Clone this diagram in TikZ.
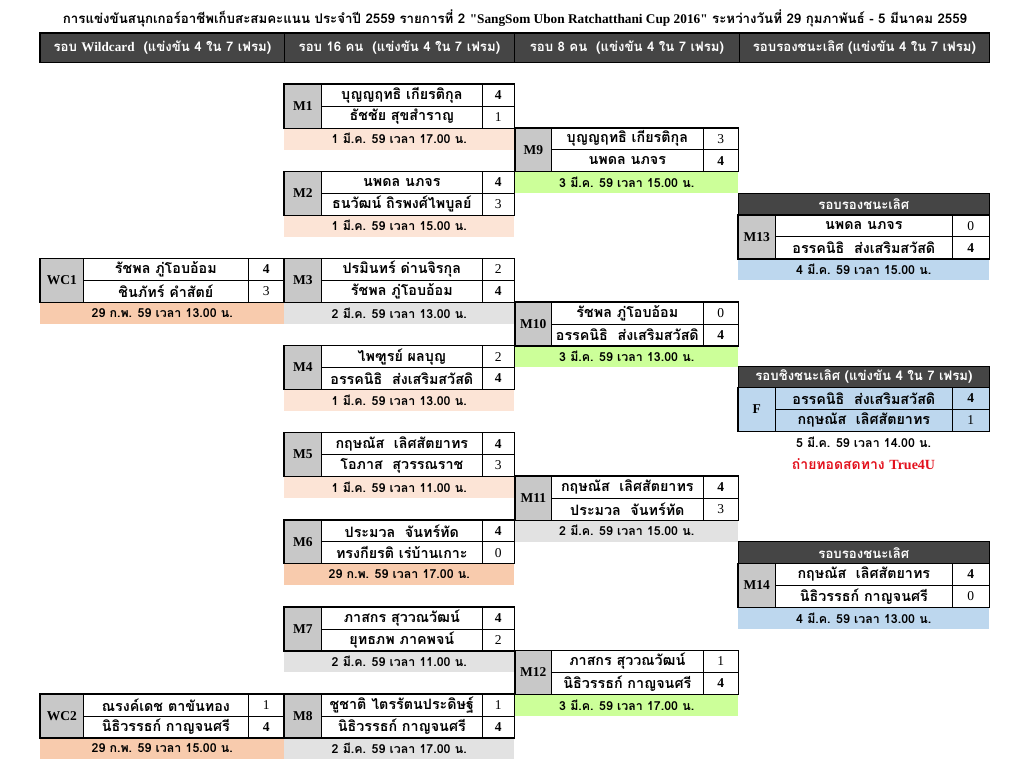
\documentclass[tikz,border=0pt]{standalone}
\usepackage{fontspec}
\setmainfont[Script=Thai]{Loma}
\newfontfamily\lat{Liberation Serif}
\definecolor{hdr}{HTML}{454545}
\definecolor{labgray}{HTML}{C8C8C8}
\definecolor{dPeach}{HTML}{FCE4D6}
\definecolor{dOrange}{HTML}{F8CBAD}
\definecolor{dGray}{HTML}{E2E2E2}
\definecolor{dGreen}{HTML}{CCFF99}
\definecolor{dBlue}{HTML}{BDD7EE}
\definecolor{tvred}{HTML}{E3101C}
\newcommand\namesize{\fontsize{14.3}{14.3}\selectfont}
\newcommand\datesize{\fontsize{12.4}{12.4}\selectfont}
\newcommand\hdrsize{\fontsize{13.2}{13.2}\selectfont}
\newcommand\scw[1]{\bfseries #1}
\newcommand\scl[1]{\mdseries #1}
\tikzset{
  cell/.style={draw=black, line width=0.7pt, anchor=north west, inner sep=0pt,
    minimum height=21.78pt, font=\bfseries\namesize},
  scell/.style={cell, font=\lat\fontsize{13.5}{13.5}\selectfont},
  labcell/.style={cell, fill=labgray, font=\lat\bfseries\fontsize{13.5}{13.5}\selectfont},
  datecell/.style={anchor=north west, inner sep=0pt, minimum height=21.78pt,
    font=\bfseries\datesize},
  outer/.style={draw=black, line width=1.2pt},
  hdrcell/.style={draw=black, line width=0.8pt, fill=hdr, text=white, anchor=north west,
    inner sep=0pt, font=\bfseries\hdrsize},
}
\newcommand\colset[4]{\def\xA{#1}\def\xB{#2}\def\xC{#3}\def\xD{#4}}
% id, row, label, p1, s1, p2, s2, date, datefill
\newcommand\matchblk[9]{%
  \pgfmathsetmacro\yT{84+#2*21.78}%
  \pgfmathsetmacro\yM{\yT+21.78}%
  \pgfmathsetmacro\yB{\yT+43.56}%
  \pgfmathsetmacro\wL{\xB-\xA}%
  \pgfmathsetmacro\wN{\xC-\xB}%
  \pgfmathsetmacro\wS{\xD-\xC}%
  \pgfmathsetmacro\wAll{\xD-\xA}%
  \node[datecell, fill=#9, minimum width=\wAll] (#1-date) at (\xA,\yB) {#8};
  \node[labcell, minimum width=\wL, minimum height=43.56] (#1-lab) at (\xA,\yT) {#3};
  \node[cell, minimum width=\wN] (#1-p1) at (\xB,\yT) {#4};
  \node[cell, minimum width=\wN] (#1-p2) at (\xB,\yM) {#6};
  \node[scell, minimum width=\wS] (#1-s1) at (\xC,\yT) {#5};
  \node[scell, minimum width=\wS] (#1-s2) at (\xC,\yM) {#7};
  \draw[outer] (#1-lab.north west) rectangle (#1-s2.south east);
}
\begin{document}
\begin{tikzpicture}[x=1pt,y=-1pt]
\useasboundingbox (0,0) rectangle (1024,768);
\fill[white] (0,0) rectangle (1024,768);
% title
\node[font=\bfseries\fontsize{13.3}{13.3}\selectfont] (title) at (515,18)
  {การแข่งขันสนุกเกอร์อาชีพเก็บสะสมคะแนน ประจำปี 2559 รายการที่ 2 {\lat"SangSom Ubon Ratchatthani Cup 2016"} ระหว่างวันที่ 29 กุมภาพันธ์ - 5 มีนาคม 2559};
% column headers
\node[hdrcell, minimum width=244, minimum height=29] (h1) at (40,33) {รอบ {\lat Wildcard}~~(แข่งขัน 4 ใน 7 เฟรม)};
\node[hdrcell, minimum width=230, minimum height=29] (h2) at (284,33) {รอบ 16 คน~~(แข่งขัน 4 ใน 7 เฟรม)};
\node[hdrcell, minimum width=225, minimum height=29] (h3) at (514,33) {รอบ 8 คน~~(แข่งขัน 4 ใน 7 เฟรม)};
\node[hdrcell, minimum width=250, minimum height=29] (h4) at (739,33) {รอบรองชนะเลิศ (แข่งขัน 4 ใน 7 เฟรม)};
\draw[outer] (h1.north west) rectangle (h4.south east);

% wildcard column
\colset{40}{83}{248}{284}
\matchblk{wc1}{8}{WC1}{รัชพล ภู่โอบอ้อม}{\scw{4}}{ชินภัทร์ คำสัตย์}{\scl{3}}{29 ก.พ. 59 เวลา 13.00 น.}{dOrange}
\matchblk{wc2}{28}{WC2}{ณรงค์เดช ตาขันทอง}{\scl{1}}{นิธิวรรธก์ กาญจนศรี}{\scw{4}}{29 ก.พ. 59 เวลา 15.00 น.}{dOrange}

% last 16
\colset{284}{321}{482}{514}
\matchblk{m1}{0}{M1}{บุญญฤทธิ เกียรติกุล}{\scw{4}}{ธัชชัย สุขสำราญ}{\scl{1}}{1 มี.ค. 59 เวลา 17.00 น.}{dPeach}
\matchblk{m2}{4}{M2}{นพดล นภจร}{\scw{4}}{ธนวัฒน์ ถิรพงศ์ไพบูลย์}{\scl{3}}{1 มี.ค. 59 เวลา 15.00 น.}{dPeach}
\matchblk{m3}{8}{M3}{ปรมินทร์ ด่านจิรกุล}{\scl{2}}{รัชพล ภู่โอบอ้อม}{\scw{4}}{2 มี.ค. 59 เวลา 13.00 น.}{dGray}
\matchblk{m4}{12}{M4}{ไพฑูรย์ ผลบุญ}{\scl{2}}{อรรคนิธิ~~ส่งเสริมสวัสดิ}{\scw{4}}{1 มี.ค. 59 เวลา 13.00 น.}{dPeach}
\matchblk{m5}{16}{M5}{กฤษณัส~~เลิศสัตยาทร}{\scw{4}}{โอภาส~~สุวรรณราช}{\scl{3}}{1 มี.ค. 59 เวลา 11.00 น.}{dPeach}
\matchblk{m6}{20}{M6}{ประมวล~~จันทร์ทัด}{\scw{4}}{ทรงกียรติ เร่บ้านเกาะ}{\scl{0}}{29 ก.พ. 59 เวลา 17.00 น.}{dOrange}
\matchblk{m7}{24}{M7}{ภาสกร สุววณวัฒน์}{\scw{4}}{ยุทธภพ ภาคพจน์}{\scl{2}}{2 มี.ค. 59 เวลา 11.00 น.}{dGray}
\matchblk{m8}{28}{M8}{ชูชาติ ไตรรัตนประดิษฐ์}{\scl{1}}{นิธิวรรธก์ กาญจนศรี}{\scw{4}}{2 มี.ค. 59 เวลา 17.00 น.}{dGray}

% quarter finals
\colset{515}{551}{703}{738}
\matchblk{m9}{2}{M9}{บุญญฤทธิ เกียรติกุล}{\scl{3}}{นพดล นภจร}{\scw{4}}{3 มี.ค. 59 เวลา 15.00 น.}{dGreen}
\matchblk{m10}{10}{M10}{รัชพล ภู่โอบอ้อม}{\scl{0}}{อรรคนิธิ~~ส่งเสริมสวัสดิ}{\scw{4}}{3 มี.ค. 59 เวลา 13.00 น.}{dGreen}
\matchblk{m11}{18}{M11}{กฤษณัส~~เลิศสัตยาทร}{\scw{4}}{ประมวล~~จันทร์ทัด}{\scl{3}}{2 มี.ค. 59 เวลา 15.00 น.}{dGray}
\matchblk{m12}{26}{M12}{ภาสกร สุววณวัฒน์}{\scl{1}}{นิธิวรรธก์ กาญจนศรี}{\scw{4}}{3 มี.ค. 59 เวลา 17.00 น.}{dGreen}

% semi finals
\colset{738}{775}{952}{989}
\node[hdrcell, minimum width=251, minimum height=21.78] (sf1) at (738,192.9) {รอบรองชนะเลิศ};
\matchblk{m13}{6}{M13}{นพดล นภจร}{\scl{0}}{อรรคนิธิ~~ส่งเสริมสวัสดิ}{\scw{4}}{4 มี.ค. 59 เวลา 15.00 น.}{dBlue}
\node[hdrcell, minimum width=251, minimum height=21.78] (sf2) at (738,541.4) {รอบรองชนะเลิศ};
\matchblk{m14}{22}{M14}{กฤษณัส~~เลิศสัตยาทร}{\scw{4}}{นิธิวรรธก์ กาญจนศรี}{\scl{0}}{4 มี.ค. 59 เวลา 13.00 น.}{dBlue}

% final
\node[hdrcell, minimum width=251, minimum height=21.78] (fh) at (738,365.5) {รอบชิงชนะเลิศ (แข่งขัน 4 ใน 7 เฟรม)};
\node[labcell, fill=dBlue, minimum width=37, minimum height=43.56] (f-lab) at (738,387.3) {F};
\node[cell, fill=dBlue, minimum width=177] (f-p1) at (775,387.3) {อรรคนิธิ~~ส่งเสริมสวัสดิ};
\node[cell, fill=dBlue, minimum width=177] (f-p2) at (775,409.1) {กฤษณัส~~เลิศสัตยาทร};
\node[scell, fill=dBlue, minimum width=37] (f-s1) at (952,387.3) {\scw{4}};
\node[scell, fill=dBlue, minimum width=37] (f-s2) at (952,409.1) {\scl{1}};
\draw[outer] (f-lab.north west) rectangle (f-s2.south east);
\node[font=\bfseries\datesize] (f-date) at (863.5,442) {5 มี.ค. 59 เวลา 14.00 น.};
\node[font=\bfseries\fontsize{14}{14}\selectfont, text=tvred] (f-tv) at (863.5,464) {ถ่ายทอดสดทาง {\lat True4U}};
\end{tikzpicture}
\end{document}
